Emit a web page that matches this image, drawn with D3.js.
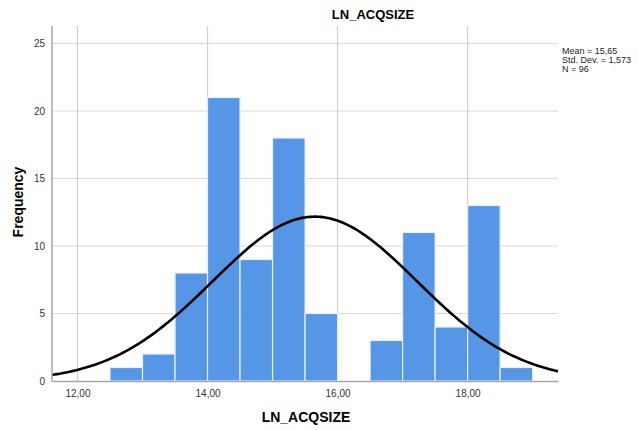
<!DOCTYPE html>
<html>
<head>
<meta charset="utf-8">
<script src="https://cdn.jsdelivr.net/npm/d3@7"></script>
<style>
  body { margin: 0; background: #fff; }
  svg { display: block; font-family: Arial, "Liberation Sans", sans-serif; }
</style>
</head>
<body>
<svg id="chart" width="638" height="430"></svg>
<script>
// histogram bins (lower edge) and counts
var binStarts = [12.5, 13.0, 13.5, 14.0, 14.5, 15.0, 15.5, 16.0, 16.5, 17.0, 17.5, 18.0, 18.5];
var counts = [1, 2, 8, 21, 9, 18, 5, 0, 3, 11, 4, 13, 1];
var binWidth = 0.5;
var mean = 15.65, stdDev = 1.573, n = 96;
var xTicks = [12, 14, 16, 18];
var yTicks = [0, 5, 10, 15, 20, 25];
var legendLines = ['Mean = 15,65', 'Std. Dev. = 1,573', 'N = 96'];

var svg = d3.select('#chart');
var plotLeft = 52, plotRight = 558, plotTop = 26, plotBottom = 381;

var x = d3.scaleLinear().domain([11.608, 19.39]).range([plotLeft, plotRight]);
var y = d3.scaleLinear().domain([0, 25]).range([plotBottom, plotBottom - 25 * 13.5]);

var fmt = function (d) { return d3.format('.2f')(d).replace('.', ','); };

// grid
svg.append('g').selectAll('line')
    .data(yTicks.slice(1))
    .enter().append('line')
    .attr('x1', plotLeft).attr('x2', plotRight)
    .attr('y1', function (d) { return y(d); })
    .attr('y2', function (d) { return y(d); })
    .attr('stroke', '#d9d9d9').attr('stroke-width', 1.2);

svg.append('g').selectAll('line')
    .data(xTicks)
    .enter().append('line')
    .attr('x1', function (d) { return x(d); })
    .attr('x2', function (d) { return x(d); })
    .attr('y1', plotTop).attr('y2', plotBottom)
    .attr('stroke', '#d0d0d0').attr('stroke-width', 1.2);

// bars
svg.append('g').selectAll('rect')
    .data(counts)
    .enter().append('rect')
    .attr('x', function (d, i) { return x(binStarts[i]); })
    .attr('width', function (d, i) { return x(binStarts[i] + binWidth) - x(binStarts[i]); })
    .attr('y', function (d) { return y(d); })
    .attr('height', function (d) { return plotBottom - y(d); })
    .attr('fill', '#5596e6')
    .attr('stroke', '#e8f0fb')
    .attr('stroke-width', 1.2)
    .style('display', function (d) { return d > 0 ? null : 'none'; });

// normal curve from mean / sd / n
var pts = d3.range(0, 201).map(function (i) {
    var v = x.domain()[0] + (x.domain()[1] - x.domain()[0]) * i / 200;
    var z = (v - mean) / stdDev;
    return [v, n * binWidth * Math.exp(-0.5 * z * z) / (stdDev * Math.sqrt(2 * Math.PI))];
});
svg.append('path')
    .datum(pts)
    .attr('d', d3.line().x(function (d) { return x(d[0]); }).y(function (d) { return y(d[1]); }))
    .attr('fill', 'none')
    .attr('stroke', '#000')
    .attr('stroke-width', 2.6);

// axes
var xAxis = svg.append('g').attr('transform', 'translate(0,' + plotBottom + ')')
    .call(d3.axisBottom(x).tickValues(xTicks).tickFormat(fmt).tickSize(0).tickPadding(9));
xAxis.select('.domain').attr('stroke', '#a6a6a6').attr('stroke-width', 1.5);
xAxis.selectAll('text').attr('font-size', 10).attr('fill', '#333').attr('font-family', 'Arial, "Liberation Sans", sans-serif');

var yAxis = svg.append('g').attr('transform', 'translate(' + plotLeft + ',0)')
    .call(d3.axisLeft(y).tickValues(yTicks).tickSize(0).tickPadding(7));
yAxis.select('.domain').attr('stroke', '#a6a6a6').attr('stroke-width', 1.5)
    .attr('d', 'M0,' + plotTop + 'V' + (plotBottom + 1));
yAxis.selectAll('text').attr('font-size', 10).attr('fill', '#333').attr('font-family', 'Arial, "Liberation Sans", sans-serif');

// titles
svg.append('text').attr('x', 373).attr('y', 19).attr('text-anchor', 'middle')
    .attr('font-size', 13).attr('font-weight', 'bold').text('LN_ACQSIZE');
svg.append('text').attr('x', 306).attr('y', 422).attr('text-anchor', 'middle')
    .attr('font-size', 14).attr('font-weight', 'bold').text('LN_ACQSIZE');
svg.append('text').attr('transform', 'translate(23,202) rotate(-90)')
    .attr('text-anchor', 'middle').attr('font-size', 14).attr('font-weight', 'bold').text('Frequency');

// stats legend
svg.append('g').selectAll('text')
    .data(legendLines)
    .enter().append('text')
    .attr('x', 562)
    .attr('y', function (d, i) { return 54 + i * 9; })
    .attr('font-size', 9)
    .attr('fill', '#222')
    .text(function (d) { return d; });
</script>
</body>
</html>
